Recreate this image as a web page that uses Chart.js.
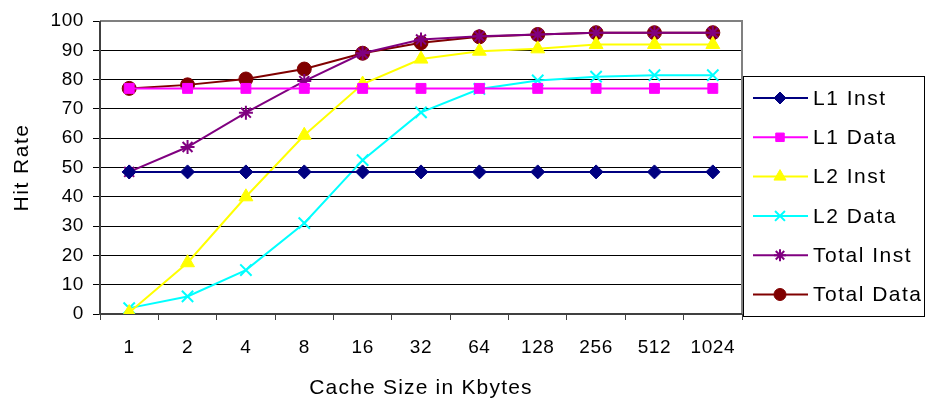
<!DOCTYPE html>
<html><head><meta charset="utf-8">
<script src="https://cdn.jsdelivr.net/npm/chart.js@4"></script>
<style>html,body{margin:0;padding:0;background:#fff}#wrap{width:927px;height:401px}</style>
</head><body><div id="wrap"><canvas id="c" width="927" height="401"></canvas></div>
<script>
const categories = ["1","2","4","8","16","32","64","128","256","512","1024"];
const l1Inst = [48.5,48.5,48.5,48.5,48.5,48.5,48.5,48.5,48.5,48.5,48.5];
const l1Data = [77,77,77,77,77,77,77,77,77,77,77];
const l2Inst = [0.5,17.5,40,61,78.5,87,89.7,90.5,92,92,92];
const l2Data = [2,6,15,31,52.5,68.8,76.8,79.7,81,81.5,81.5];
const totalInst = [48.5,57,68.7,79.5,89,93.7,94.8,95.4,96,96,96];
const totalData = [77,78.2,80.2,83.6,89,92.6,94.6,95.4,96,96,96];
const yTicks = [0,10,20,30,40,50,60,70,80,90,100];

const F = "'Liberation Sans', Arial, sans-serif";
function ds(label, data, color, style, radius) {
  return { label, data, borderColor: color, backgroundColor: color,
    pointStyle: style, pointRadius: radius, pointHoverRadius: radius, pointBorderColor: color,
    pointBackgroundColor: color, pointBorderWidth: (style==='crossRot'||style==='star')?2:1,
    borderWidth: 2, tension: 0 };
}
const datasets = [
  ds('L1 Inst', l1Inst, '#000080', 'rectRot', 7),
  ds('L1 Data', l1Data, '#FF00FF', 'rect', 7),
  ds('L2 Inst', l2Inst, '#FFFF00', 'triangle', 8),
  ds('L2 Data', l2Data, '#00FFFF', 'crossRot', 8),
  ds('Total Inst', totalInst, '#800080', 'star', 7),
  ds('Total Data', totalData, '#800000', 'circle', 7),
];

function spaced(fn, sp) {
  return function() {
    const ctx = this.ctx; ctx.save(); ctx.letterSpacing = sp;
    const r = fn.apply(this, arguments); ctx.restore(); return r;
  };
}
const frame = {
  id: 'frame',
  beforeDraw(chart) {
    const sx = chart.scales.x, sy = chart.scales.y;
    if (!sx._patched) {
      sx.drawTitle = spaced(sx.drawTitle, '1.2px');
      sx.drawLabels = spaced(sx.drawLabels, '0.6px');
      sy.drawTitle = spaced(sy.drawTitle, '1.5px');
      sy.drawLabels = spaced(sy.drawLabels, '0.6px');
      sx._patched = true;
    }
  },
  beforeDatasetsDraw(chart) {
    const {ctx, chartArea: a} = chart;
    ctx.save();
    ctx.strokeStyle = '#808080'; ctx.lineWidth = 2;
    ctx.beginPath();
    ctx.moveTo(a.left, a.top); ctx.lineTo(a.right, a.top); ctx.lineTo(a.right, a.bottom);
    ctx.stroke();
    ctx.strokeStyle = '#404040';
    ctx.beginPath();
    ctx.moveTo(a.left, a.top); ctx.lineTo(a.left, a.bottom); ctx.lineTo(a.right, a.bottom);
    ctx.stroke();
    ctx.restore();
  },
  afterDraw(chart) {
    const ctx = chart.ctx;
    const bx = 743, by = 76, bw = 181, bh = 240;
    ctx.save();
    ctx.strokeStyle = '#000'; ctx.lineWidth = 1;
    ctx.strokeRect(bx + 0.5, by + 0.5, bw, bh);
    ctx.textBaseline = 'middle';
    chart.data.datasets.forEach((d, i) => {
      const y = by + 22 + i * 39.3;
      ctx.strokeStyle = d.borderColor; ctx.lineWidth = 2;
      ctx.beginPath(); ctx.moveTo(753, y); ctx.lineTo(808, y); ctx.stroke();
      ctx.fillStyle = d.pointBackgroundColor; ctx.strokeStyle = d.pointBorderColor;
      ctx.lineWidth = d.pointBorderWidth;
      Chart.helpers.drawPoint(ctx, {pointStyle: d.pointStyle, radius: d.pointRadius - 1, borderWidth: d.pointBorderWidth, rotation: 0}, 780, y);
      ctx.fillStyle = '#000';
      ctx.font = '21px ' + F; ctx.letterSpacing = '1.5px';
      ctx.fillText(d.label, 813, y + 1);
      ctx.letterSpacing = '0px';
    });
    ctx.restore();
  }
};

new Chart(document.getElementById('c'), {
  type: 'line',
  data: { labels: categories, datasets },
  options: {
    responsive: false, animation: false,
    layout: { padding: { left: 0, right: 185, top: 21, bottom: 0 } },
    plugins: { legend: { display: false }, tooltip: { enabled: false } },
    scales: {
      x: {
        offset: true,
        grid: { offset: true, drawOnChartArea: false, drawTicks: true, tickLength: 6, color: '#404040', lineWidth: 1 },
        border: { display: false },
        ticks: { font: { family: F, size: 19 }, color: '#000', padding: 16, maxRotation: 0 },
        title: { display: true, text: 'Cache Size in Kbytes', font: { family: F, size: 21 }, color: '#000', padding: { top: 12, bottom: 0 } },
        afterFit(s) { s.height = 87; }
      },
      y: {
        min: 0, max: 100,
        afterBuildTicks(s) { s.ticks = yTicks.map(v => ({ value: v })); },
        grid: { color: '#000', lineWidth: 1, tickLength: 7, drawTicks: true },
        border: { display: false },
        ticks: { font: { family: F, size: 19 }, color: '#000', padding: 9 },
        title: { display: true, text: 'Hit Rate', font: { family: F, size: 21 }, color: '#000', padding: { top: 10, bottom: 4 } },
        afterFit(s) { s.width = 100; }
      }
    }
  },
  plugins: [frame]
});
</script></body></html>
